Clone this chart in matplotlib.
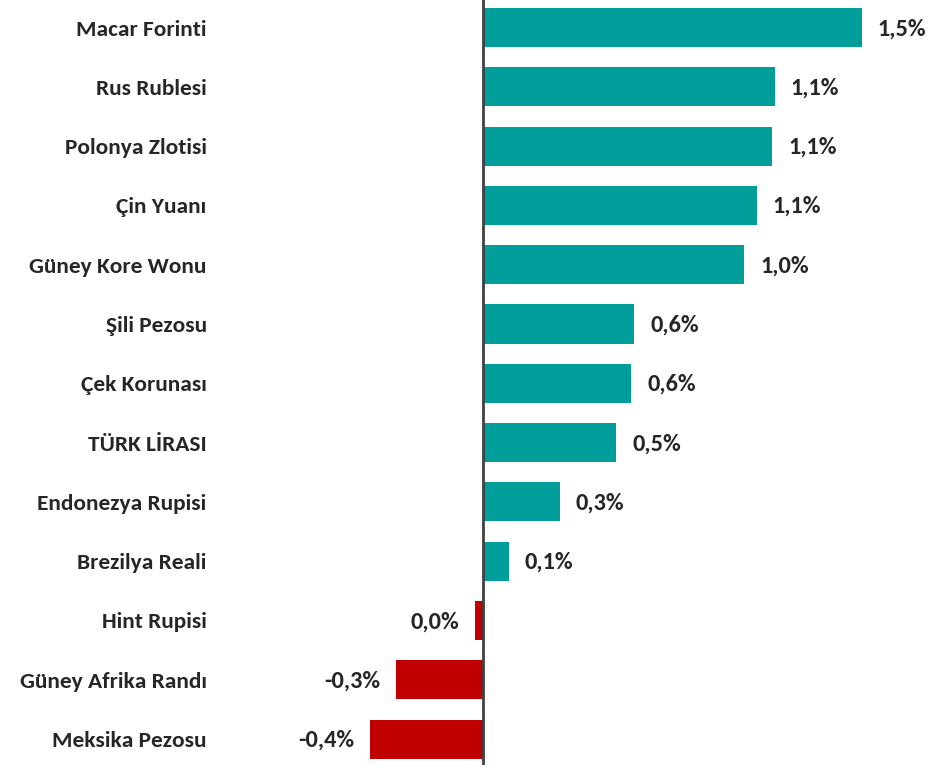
import matplotlib
matplotlib.use("Agg")
import matplotlib.pyplot as plt

categories = ["Macar Forinti", "Rus Rublesi", "Polonya Zlotisi", "Çin Yuanı",
              "Güney Kore Wonu", "Şili Pezosu", "Çek Korunası", "TÜRK LİRASI",
              "Endonezya Rupisi", "Brezilya Reali", "Hint Rupisi",
              "Güney Afrika Randı", "Meksika Pezosu"]
values = [1.48, 1.14, 1.13, 1.07, 1.02, 0.59, 0.58, 0.52, 0.30, 0.10, -0.03, -0.34, -0.44]

POS = "#009E9A"
NEG = "#C00000"
TXT = "#262626"
FONT = ["Carlito", "Open Sans Condensed", "DejaVu Sans"]

W, H = 938, 765
fig = plt.figure(figsize=(W / 100, H / 100), dpi=100)
ax_left = 215 / W
ax = fig.add_axes([ax_left, 0, 1 - ax_left, 1])

scale = 256.0  # px per unit
zero_px = 483
ax.set_xlim(-(zero_px - 215) / scale, (W - zero_px) / scale)
pitch = 59.3
first = 27.5
ax.set_ylim((H - first) / pitch, -first / pitch)

y = list(range(len(categories)))
colors = [POS if v >= 0 else NEG for v in values]
ax.barh(y, values, height=0.66, color=colors, zorder=2)
ax.axvline(0, color="#404040", lw=2, zorder=3)

def fmt(v):
    s = f"{v:.1f}".replace(".", ",")
    if s == "-0,0":
        s = "0,0"
    return s + "%"

off = 16 / scale
for yi, v in zip(y, values):
    if v >= 0:
        ax.text(v + off, yi + 0.02, fmt(v), ha="left", va="center", fontsize=17.5,
                fontweight="bold", color=TXT, family=FONT)
    else:
        ax.text(v - off, yi + 0.02, fmt(v), ha="right", va="center", fontsize=17.5,
                fontweight="bold", color=TXT, family=FONT)

ax.set_yticks(y)
ax.set_yticklabels(categories, fontsize=16.8, fontweight="bold", color=TXT, family=FONT)
ax.tick_params(axis="y", length=0, pad=6)
ax.set_xticks([])
for s in ax.spines.values():
    s.set_visible(False)

fig.savefig("out.png", dpi=100)
